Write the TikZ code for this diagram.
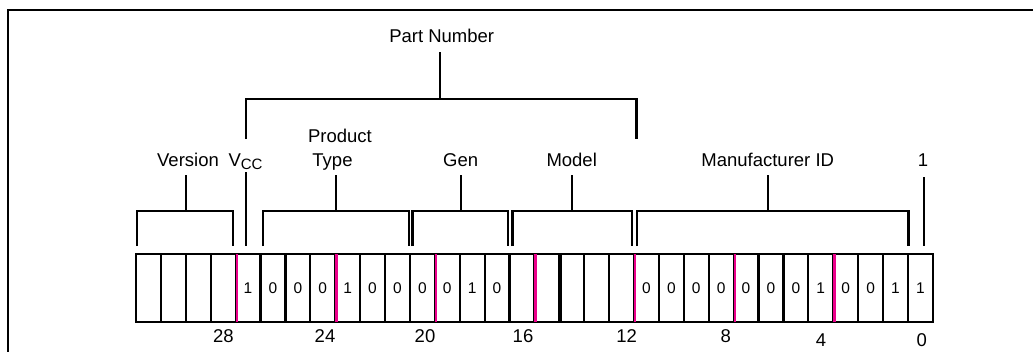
\documentclass[tikz,border=0pt]{standalone}
\usepackage{fontspec}
\setmainfont{Liberation Sans}
\tikzset{
  lbl/.style={font=\fontsize{18.5}{22}\selectfont, inner sep=0pt, anchor=base},
  cell/.style={draw, line width=2.2pt, minimum width=24.9pt, minimum height=67.5pt,
               inner sep=0pt, font=\fontsize{15.5}{18}\selectfont},
  brk/.style={line width=2.4pt},
  mag/.style={draw=magenta, line width=2.4pt, shorten <=1.1pt, shorten >=1.1pt},
  frameline/.style={line width=2.2pt}
}
\begin{document}
\begin{tikzpicture}[x=1pt,y=-1pt]
\useasboundingbox (0,0) rectangle (1033,351);
% frame
\draw[frameline] (8,352) -- (8,10) -- (1034,10);

% register cells (bit 31 on the left)
\foreach \v [count=\k from 0] in {{},{},{},{},1,0,0,0,1,0,0,0,0,1,0,{},{},{},{},{},0,0,0,0,0,0,0,1,0,0,1,1}{
  \pgfmathtruncatemacro\bit{31-\k}
  \pgfmathsetmacro\cx{136+(\k+0.5)*24.9}
  \node[cell] (b\bit) at (\cx,288) {\v};
}
\draw[line width=3pt] (b15.north east) -- (b15.south east);
\foreach \i in {28,24,20,16,12,8,4}
  \draw[mag] (b\i.north east) -- (b\i.south east);

% bit numbers
\node[lbl] (n28) at (223.3,342) {28};
\node[lbl] (n24) at (325,342) {24};
\node[lbl] (n20) at (425,342) {20};
\node[lbl] (n16) at (523,342) {16};
\node[lbl] (n12) at (626.7,342) {12};
\node[lbl] (n8)  at (725.7,342) {8};
\node[lbl] (n4)  at (821,346) {4};
\node[lbl] (n0)  at (921.7,346) {0};

% field labels
\node[lbl] (pn)    at (441.7,42) {Part Number};
\node[lbl] (ver)   at (188,166) {Version};
\node[lbl] (vcc)   at (245.5,166) {V\raisebox{-3pt}{\fontsize{15}{15}\selectfont CC}};
\node[lbl] (prod)  at (340,142) {Product};
\node[lbl] (type)  at (332.5,166) {Type};
\node[lbl] (gen)   at (460.7,166) {Gen};
\node[lbl] (model) at (571.7,166) {Model};
\node[lbl] (mid)   at (767.7,166) {Manufacturer ID};
\node[lbl] (one)   at (923,166) {1};

% bracket coordinates
\coordinate (pnS) at (440,52);   \coordinate (pnM) at (440,99);
\coordinate (pnL) at (246,139);  \coordinate (pnR) at (636.5,139);
\coordinate (vccT) at (246,172); \coordinate (vccB) at (246,246);
\coordinate (verS) at (185.7,175); \coordinate (verM) at (185.7,211);
\coordinate (verL) at (137,246);   \coordinate (verR) at (233,246);
\coordinate (ptS) at (335.7,175);  \coordinate (ptM) at (335.7,211);
\coordinate (ptL) at (263,246);    \coordinate (ptR) at (409,246);
\coordinate (gS) at (460.7,175);   \coordinate (gM) at (460.7,211);
\coordinate (gL) at (412.5,246);   \coordinate (gR) at (508,246);
\coordinate (mS) at (571.7,175);   \coordinate (mM) at (571.7,211);
\coordinate (mL) at (512.5,246);   \coordinate (mR) at (632,246);
\coordinate (idS) at (767.7,175);  \coordinate (idM) at (767.7,211);
\coordinate (idL) at (637,246);    \coordinate (idR) at (908.3,246);
\coordinate (oneT) at (924,177);   \coordinate (oneB) at (924,246);

% brackets
\draw[brk] (pnS) -- (pnM);
\draw[brk] (pnL) |- (pnM) -| (pnR);
\draw[brk] (vccT) -- (vccB);
\draw[brk] (verS) -- (verM);
\draw[brk] (verL) |- (verM) -| (verR);
\draw[brk] (ptS) -- (ptM);
\draw[brk] (ptL) |- (ptM) -| (ptR);
\draw[brk] (gS) -- (gM);
\draw[brk] (gL) |- (gM) -| (gR);
\draw[brk] (mS) -- (mM);
\draw[brk] (mL) |- (mM) -| (mR);
\draw[brk] (idS) -- (idM);
\draw[brk] (idL) |- (idM) -| (idR);
\draw[brk] (oneT) -- (oneB);
\end{tikzpicture}
\end{document}
